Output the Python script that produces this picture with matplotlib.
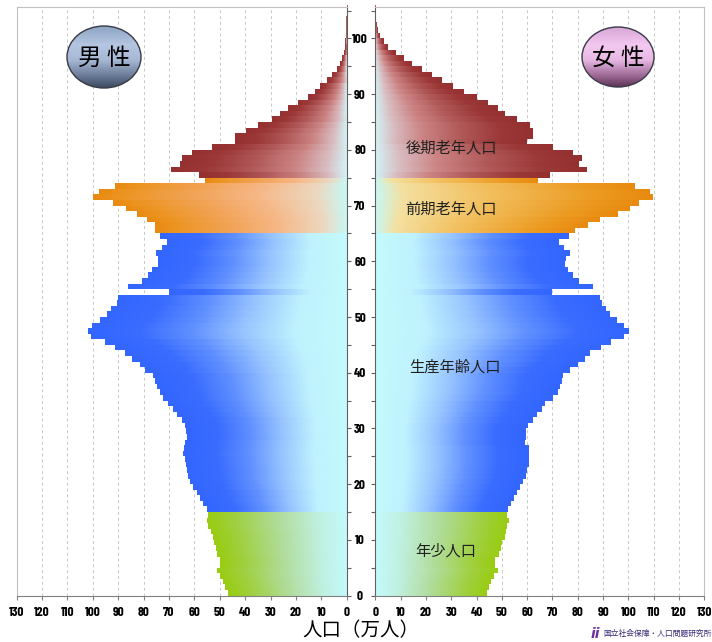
import matplotlib.pyplot as plt
import numpy as np
from matplotlib.colors import LinearSegmentedColormap
from matplotlib.patches import Ellipse

plt.rcParams['font.family'] = ['Noto Sans CJK JP', 'DejaVu Sans']

# population by single year of age, 10k persons (万人)
ages = np.arange(0, 106)
male = np.array([
    46.9, 47.9, 48.6, 49.9, 51.2, 49.9, 49.9, 51.0, 51.5, 52.3,
    52.8, 53.6, 54.5, 54.9, 54.5, 54.9, 56.5, 57.8, 59.1, 60.4,
    61.7, 62.4, 63.0, 63.3, 63.7, 64.4, 64.1, 63.7, 63.0, 63.3,
    63.7, 65.0, 66.7, 68.3, 70.3, 72.3, 73.6, 74.6, 75.5, 76.2,
    79.5, 81.4, 84.7, 87.4, 91.3, 95.2, 100.5, 101.8, 100.1, 97.2,
    94.2, 92.6, 90.4, 90.0, 69.9, 86.0, 80.5, 78.2, 76.8, 74.2,
    74.2, 75.1, 72.9, 70.7, 73.6, 75.5, 75.5, 78.8, 82.7, 87.0,
    92.2, 99.8, 97.5, 91.3, 55.8, 58.1, 69.0, 65.7, 65.0, 61.1,
    53.2, 44.0, 44.0, 39.7, 34.8, 29.6, 26.3, 23.0, 19.1, 15.1,
    12.5, 10.5, 7.9, 5.9, 3.9, 2.6, 1.8, 1.2, 0.8, 0.5,
    0.3, 0.2, 0.1, 0.1, 0.05, 0.02])
female = np.array([
    44.1, 45.0, 45.8, 46.8, 48.5, 47.4, 47.4, 48.7, 49.7, 50.1,
    51.1, 51.4, 52.0, 52.7, 52.0, 52.3, 53.6, 54.8, 56.1, 57.1,
    58.4, 59.4, 60.0, 60.5, 60.6, 60.8, 60.6, 59.2, 59.5, 59.6,
    60.2, 62.2, 63.8, 65.7, 67.0, 70.1, 72.3, 73.0, 73.6, 74.0,
    76.9, 80.2, 82.9, 84.8, 89.0, 93.0, 98.0, 100.0, 98.0, 95.4,
    92.5, 91.2, 89.4, 88.8, 69.7, 85.9, 80.6, 78.2, 75.9, 74.9,
    75.3, 76.7, 74.3, 72.7, 76.3, 78.9, 83.8, 88.8, 96.0, 100.6,
    104.3, 109.8, 108.5, 102.6, 64.4, 69.0, 83.5, 80.6, 81.5, 78.2,
    70.1, 59.8, 62.4, 62.4, 61.1, 55.9, 51.2, 48.6, 44.6, 40.1,
    34.8, 30.6, 26.2, 22.3, 18.3, 14.4, 11.1, 8.2, 5.1, 3.4,
    1.9, 0.8, 0.5, 0.3, 0.15, 0.1])

# age groups: (first age, last age + 1, key, label)
groups = [(0, 15, 'young', '年少人口'),
          (15, 65, 'work', '生産年齢人口'),
          (65, 75, 'early', '前期老年人口'),
          (75, 106, 'late', '後期老年人口')]
label_pos = {'young': (28, 8.0), 'work': (31.5, 41.0),
             'early': (30, 69.4), 'late': (30, 80.4)}

cm = LinearSegmentedColormap.from_list
cmap_m = {
    'young': cm('y', [(0, '#c4fafc'), (0.2, '#c0f0e0'), (0.5, '#b0dc98'), (0.8, '#a0d040'), (1, '#99cc11')]),
    'work': cm('w', [(0, '#c4fafc'), (0.2, '#bff2fe'), (0.4, '#98c4ff'), (0.6, '#6090ff'), (0.8, '#3a6cff'), (1, '#3366ff')]),
    'early': cm('e', [(0, '#c8f8f4'), (0.12, '#ecd8c0'), (0.35, '#f6b888'), (0.6, '#f2a458'), (0.9, '#ec9420'), (1, '#e88a10')]),
    'late': cm('l', [(0, '#d4f2f6'), (0.12, '#d8bcc0'), (0.3, '#cc8484'), (0.55, '#b05858'), (0.8, '#9c3838'), (1, '#943030')]),
}
cmap_f = dict(cmap_m)
cmap_f['early'] = cm('ef', [(0, '#c8f8f4'), (0.1, '#f4e0a0'), (0.4, '#f2c060'), (0.8, '#ec9a20'), (1, '#e88a10')])

W, H = 712, 642
fig = plt.figure(figsize=(W / 100, H / 100), dpi=100)


def box(x0, y0, x1, y1):
    return [x0 / W, 1 - y1 / H, (x1 - x0) / W, (y1 - y0) / H]


axL = fig.add_axes(box(16.5, 6.7, 346.7, 595.6))
axR = fig.add_axes(box(375.3, 6.7, 704.3, 595.6))

tickfont = dict(family=['Barlow Condensed', 'PT Sans Narrow', 'DejaVu Sans'],
                weight='bold', size=9.5)
grad = np.linspace(0, 1, 256).reshape(1, -1)


def draw(ax, vals, cmaps):
    for lo, hi, key, _ in groups:
        sel = (ages >= lo) & (ages < hi)
        bars = ax.barh(ages[sel], vals[sel], height=1, align='edge',
                       color=cmaps[key](1.0), lw=0, zorder=2)
        for b, a, v in zip(bars, ages[sel], vals[sel]):
            im = ax.imshow(grad, cmap=cmaps[key], extent=(0, v, a, a + 1),
                           aspect='auto', interpolation='bilinear', zorder=2)
            im.set_clip_path(b)
    ax.set_ylim(0, 105.7)
    ax.set_xticks(range(0, 131, 10))
    ax.set_xticklabels([str(t) for t in range(0, 131, 10)], fontdict=tickfont)
    ax.grid(axis='x', ls=(0, (3, 3)), color='#c8c8c8', lw=0.7)
    ax.set_axisbelow(True)
    ax.tick_params(axis='x', direction='out', length=3, color='#808080', pad=5)
    ax.set_yticks(range(0, 106, 5))
    ax.tick_params(axis='y', direction='out', length=3, color='#606060')
    for s in ax.spines.values():
        s.set_color('#c0c0c0')
        s.set_linewidth(0.8)
    ax.spines['bottom'].set_color('#808080')


draw(axL, male, cmap_m)
axL.set_xlim(130, 0)
axL.yaxis.tick_right()
axL.set_yticklabels([])
axL.spines['right'].set_color('#606060')

draw(axR, female, cmap_f)
axR.set_xlim(0, 130)
axR.set_yticklabels([str(t) if t % 10 == 0 else '' for t in range(0, 106, 5)], fontdict=tickfont)
for t in axR.get_yticklabels():
    t.set_ha('center')
axR.tick_params(axis='y', pad=8)
axR.spines['left'].set_color('#606060')

for lo, hi, key, name in groups:
    x, y = label_pos[key]
    axR.text(x, y, name, ha='center', va='center', fontsize=11, color='#202020', zorder=5)

fig.text(361 / W, 1 - 631 / H, '人口（万人）', ha='center', va='center', fontsize=14)

# overlay for badges and logo
ov = fig.add_axes([0, 0, 1, 1])
ov.set_xlim(0, W)
ov.set_ylim(H, 0)
ov.axis('off')


def badge(cx, cy, w, h, colors, text):
    c = cm('b', colors)
    g = c(np.linspace(0, 1, 128)).reshape(128, 1, 4)
    el = Ellipse((cx, cy), w, h, facecolor='none', edgecolor='#3a3a48', lw=1.0, zorder=3)
    ov.add_patch(el)
    im = ov.imshow(g, extent=(cx - w / 2, cx + w / 2, cy + h / 2, cy - h / 2),
                   aspect='auto', interpolation='bilinear', zorder=2)
    im.set_clip_path(el)
    ov.text(cx, cy + 1, text, ha='center', va='center', fontsize=17, color='black', zorder=4)


badge(104, 57, 74, 62, [(0, '#8ea4c4'), (0.3, '#b4c6e0'), (0.55, '#a6b8d4'), (0.8, '#6a7c98'), (1, '#3c4a60')], '男 性')
badge(618, 57, 72, 60, [(0, '#d9a6d6'), (0.3, '#f2c8f0'), (0.55, '#e8b8e4'), (0.8, '#a06c98'), (1, '#5e3456')], '女 性')

ov.text(595, 634, 'ii', ha='center', va='center', fontsize=10, color='#7030a0',
        fontweight='bold', style='italic', family='DejaVu Sans')
ov.text(603, 634, '国立社会保障・人口問題研究所', ha='left', va='center', fontsize=5.6, color='#3c2a78')

ov.set_xlim(0, W)
ov.set_ylim(H, 0)

fig.savefig('out.png', dpi=100)
